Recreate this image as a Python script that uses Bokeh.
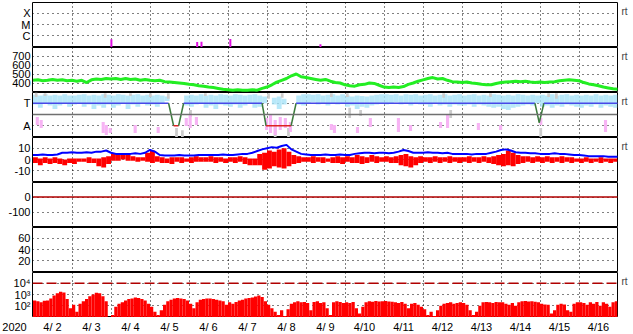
import numpy as np
from bokeh.plotting import figure
from bokeh.layouts import column
from bokeh.models import (Range1d, FixedTicker, CustomJSTickFormatter, LinearAxis,
                          LogAxis, Span)
from bokeh.core.properties import value
from bokeh.embed import file_html
from bokeh.resources import INLINE

FONT = "Liberation Sans"

# ---------------- time axis (days after 2020-04-02 00 UT) ----------------
year_label = "2020"
date_labels = ["4/ 2", "4/ 3", "4/ 4", "4/ 5", "4/ 6", "4/ 7", "4/ 8", "4/ 9",
               "4/10", "4/11", "4/12", "4/13", "4/14", "4/15", "4/16"]
midnights = list(range(1, 15))
noons = [d + 0.5 for d in range(15)]

# ---------------- panel 1 : X-ray flare class ----------------
xray_ticks = [1e-6, 1e-5, 1e-4]
xray_labels = ["C", "M", "X"]
flare_t = [2.01, 4.21, 4.32, 5.06, 7.37]
flare_peak = [5.0e-7, 2.8e-7, 3.0e-7, 5.2e-7, 1.8e-7]

# ---------------- panel 2 : solar wind speed, 3-hourly ----------------
speed_ticks = [400, 500, 600, 700]
speed_labels = ["400", "500", "600", "700"]
wind_speed = [430, 435, 425, 430, 440, 430, 435, 425, 430, 420,
              430, 405, 435, 445, 440, 450, 445, 450, 440, 450,
              440, 445, 430, 440, 430, 425, 430, 415, 410, 405,
              400, 395, 385, 380, 370, 365, 355, 350, 340, 330,
              325, 320, 325, 320, 320, 325, 320, 340, 355, 380,
              410, 430, 450, 480, 500, 470, 460, 450, 440, 430,
              440, 420, 405, 400, 380, 370, 365, 380, 385, 400,
              395, 375, 355, 350, 355, 350, 360, 385, 400, 420,
              435, 450, 460, 445, 450, 430, 415, 410, 405, 410,
              400, 395, 385, 380, 380, 395, 405, 410, 415, 420,
              415, 420, 410, 405, 410, 405, 410, 415, 425, 430,
              435, 430, 425, 405, 390, 380, 370, 355, 345, 335,
              330]

# ---------------- panel 3 : T / A ----------------
ta_ticks = [1, 3]
ta_labels = ["A", "T"]
src_t = [0, 3.477, 3.605, 3.734, 3.862, 5.874, 5.976, 6.618, 6.746, 12.87, 12.98, 13.10, 15]
src_level = [3, 3, 1, 1, 3, 3, 1, 1, 3, 3, 1.27, 3, 3]
mid_level = 2
lb_hi = [3.75, 3.7, 3.8, 3.7, 3.75, 3.7, 3.8, 3.7,
         3.7, 3.75, 3.8, 3.7, 3.75, 3.7, 3.8, 3.75,
         3.7, 3.8, 3.75, 3.7, 3.75, 3.8, 3.7, 3.75,
         3.7, 3.75, 3.7, 3.6, None, None, None, 3.7,
         3.75, 3.7, 3.8, 3.7, 3.75, 3.7, 3.8, 3.75,
         3.7, 3.8, 3.75, 3.7, 3.75, 3.8, 3.7, 3.6,
         None, 3.5, 3.6, 3.4, None, None, 3.7, 3.8,
         3.8, 3.75, 3.8, 3.7, 3.75, 3.8, 3.7, 3.8,
         3.7, 3.6, 3.7, 3.65, 3.6, 3.7, 3.75, 3.8,
         3.8, 3.75, 3.8, 3.7, 3.8, 3.75, 3.8, 3.7,
         3.75, 3.8, 3.7, 3.75, 3.8, 3.7, 3.75, 3.8,
         3.7, 3.75, 3.8, 3.7, 3.75, 3.7, 3.8, 3.75,
         3.7, 3.75, 3.7, 3.8, 3.75, 3.7, 3.75, 3.7,
         3.75, 3.7, 3.8, 3.7, 3.75, 3.8, 3.7, 3.75,
         3.7, 3.75, 3.7, 3.8, 3.7, 3.75, 3.7, 3.75]
lb_lo = [2.9, 2.6, 3.0, 2.8, 2.5, 2.8, 3.0, 2.7,
         2.9, 3.0, 2.7, 2.9, 2.5, 2.8, 2.6, 2.9,
         2.6, 2.8, 3.0, 2.5, 2.9, 2.7, 3.0, 2.8,
         2.9, 2.7, 3.0, 3.2, None, None, None, 2.8,
         2.7, 2.9, 3.0, 2.6, 2.8, 2.5, 2.9, 2.8,
         2.7, 2.9, 2.6, 2.8, 3.0, 2.6, 2.7, 3.0,
         None, 2.9, 2.5, 2.9, None, None, 2.9, 2.8,
         3.0, 3.1, 2.9, 3.0, 2.8, 3.0, 2.9, 3.0,
         2.7, 2.8, 2.5, 2.7, 2.6, 2.8, 2.9, 3.0,
         2.9, 3.0, 3.1, 2.9, 3.0, 2.8, 3.0, 2.9,
         2.9, 2.7, 3.0, 2.8, 2.9, 2.7, 2.9, 2.8,
         2.8, 2.9, 2.7, 2.9, 2.8, 2.7, 2.6, 2.7,
         2.5, 2.4, 2.6, 2.7, 2.8, 2.9, 2.8, 3.0,
         2.7, 2.8, 2.6, 2.8, 2.7, 2.9, 2.8, 2.7,
         2.6, 2.8, 2.7, 2.9, 2.6, 2.8, 2.7, 2.6]
pink_t = [0.11, 0.21, 1.80, 1.88, 1.98, 2.62, 3.21, 3.93, 4.03, 4.19, 5.99, 6.09, 6.21,
          6.34, 6.47, 6.60, 7.65, 7.73, 8.32, 8.65, 9.37, 9.68, 10.45, 10.63, 11.42,
          11.99, 13.02, 14.68]
pink_hi = [1.78, 1.51, 1.33, 1.07, 0.80, 1.07, 0.89, 1.69, 1.96, 1.78, 1.69, 1.96, 1.51,
           1.78, 1.69, 1.33, 1.16, 1.07, 0.89, 1.69, 1.69, 1.07, 1.33, 1.96, 1.24,
           1.07, 1.69, 1.51]
pink_lo = [1.07, 0.80, 0.36, 0.18, 0.36, 0.36, 0.36, 0.98, 0.80, 1.07, 0.62, 0.36, 0.18,
           0.62, 0.80, 0.44, 0.62, 0.36, 0.36, 0.89, 0.44, 0.53, 0.80, 0.80, 0.62,
           0.62, 1.07, 0.44]
gray_t = [0.08, 0.31, 1.85, 2.50, 3.01, 3.47, 3.68, 3.83, 4.04, 4.42, 6.04, 6.21, 6.39,
          6.55, 7.65, 8.06, 8.12, 8.40, 10.53, 10.71, 11.73, 13.22, 13.42, 13.02]
gray_hi = [4.0, 3.9, 3.9, 3.9, 3.9, 3.9, 0.8, 0.6, 2.4, 3.9, 3.9, 1.0, 3.9,
           0.8, 3.9, 3.9, 2.6, 2.4, 3.9, 2.4, 3.9, 3.9, 3.9, 0.8]
gray_lo = [3.56, 3.65, 3.5, 3.65, 3.56, 3.4, 0.0, 0.0, 1.78, 3.65, 3.4, 0.0, 3.5,
           0.0, 3.56, 3.56, 1.69, 1.87, 3.5, 1.69, 3.56, 3.56, 3.4, 0.0]

# ---------------- panel 4 : IMF Bt (blue, 3-hourly) and Bz (red, 3-h range) ----------------
b_ticks = [-10, 0, 10]
b_labels = ["-10", "0", "10"]
bt = [4, 4, 4.5, 4, 4, 4.5, 6, 6, 6.5, 6,
      6, 6.5, 6, 7, 7, 8, 6, 5, 5, 5,
      5, 5.5, 5, 6, 8.5, 7, 4, 3.5, 3.5, 3.5,
      4, 3.5, 3.5, 3.5, 4, 4, 4, 4, 4, 4.5,
      4, 4, 4.5, 5, 5, 6, 7.5, 9, 10, 11,
      10.5, 12, 13, 9, 7, 5, 4.5, 4, 4, 4,
      4.5, 4, 4, 4.5, 4, 4, 5, 5.5, 6, 6,
      5.5, 6, 6, 5.5, 6, 7, 8.5, 7.5, 6, 6,
      6, 6.5, 6, 6, 5.5, 6, 5, 5, 5, 5,
      4.5, 5, 5, 5, 6, 7, 8.5, 9, 8, 6.5,
      6, 6, 5.5, 5.5, 5, 5, 5, 5.5, 5, 5,
      4.5, 4, 4, 3.5, 3, 3, 3, 3, 2.5, 2.5,
      2.5]
bz_max = [2, 1, 2, 1, 2, 1, 0, 1, 1, 1, 1, 2, 1, 1, 2, 3,
          5, 4, 5, 4, 3, 2, 2, 6, 8, 3, 2, 1, 2, 2, 2, 1,
          2, 3, 2, 2, 3, 2, 2, 1, 2, 2, 3, 2, 1, 1, 5, 6,
          8, 7, 9, 10, 7, 4, 3, 2, 2, 3, 2, 2, 1, 2, 3, 2,
          3, 2, 4, 3, 2, 4, 3, 2, 3, 2, 3, 4, 5, 3, 2, 3,
          2, 2, 3, 2, 2, 3, 2, 2, 2, 3, 2, 2, 3, 2, 3, 4,
          5, 8, 6, 4, 3, 3, 2, 3, 2, 3, 2, 2, 3, 2, 2, 1,
          1, 2, 1, 1, 2, 1, 1, 1]
bz_min = [-3, -5, -3, -4, -3, -4, -5, -3, -4, -2, -2, -3, -3, -6, -7, -4,
          -1, -1, 0, -1, -1, -2, -1, -2, -3, -2, -3, -3, -4, -2, -3, -2,
          -3, -2, -2, -2, -2, -3, -2, -3, -2, -3, -2, -4, -5, -5, -5, -9,
          -8, -6, -7, -8, -6, -4, -3, -2, -2, -3, -2, -3, -2, -3, -3, -4,
          -2, -3, -3, -4, -3, -2, -3, -2, -2, -3, -3, -5, -6, -7, -5, -3,
          -2, -3, -2, -3, -2, -3, -2, -3, -2, -3, -2, -3, -2, -3, -4, -5,
          -6, -5, -6, -4, -3, -2, -3, -2, -3, -2, -3, -2, -3, -2, -3, -2,
          -3, -2, -3, -2, -3, -2, -3, -2]

# ---------------- panel 5 : index near zero ----------------
dst_ticks = [-100, 0]
dst_labels = ["-100", "0"]
dst_t = [0.0, 15.0]
dst_val = [0, 0]

# ---------------- panel 6 : empty ----------------
p6_ticks = [20, 40, 60]
p6_labels = ["20", "40", "60"]

# ---------------- panel 7 : electron flux, 2-hourly ----------------
flux_ticks = [1e2, 1e3, 1e4]
flux_labels = ["10\u00b2", "10\u00b3", "10\u2074"]
flux_alert = 1e4
flux = [300, 250, 200, 280, 300, 450, 800, 1300, 1800, 1500, 400, 60,
        120, 30, 150, 250, 400, 700, 1000, 1400, 1300, 700, 250, 10,
        15, 80, 150, 200, 300, 400, 450, 550, 500, 400, 300, 150,
        80, 30, 15, 40, 120, 250, 350, 450, 500, 450, 400, 300,
        150, 60, 200, 350, 400, 450, 450, 400, 350, 300, 250, 120,
        200, 150, 220, 300, 350, 450, 500, 550, 650, 800, 600, 250,
        120, 60, 30, 15, 40, 12, 50, 150, 200, 250, 200, 220,
        180, 40, 220, 250, 180, 200, 60, 15, 200, 250, 220, 180,
        200, 180, 220, 60, 20, 80, 200, 250, 230, 260, 240, 250,
        260, 240, 230, 200, 180, 220, 150, 60, 150, 180, 120, 80,
        50, 15, 30, 12, 40, 100, 150, 180, 200, 150, 180, 200,
        180, 120, 40, 15, 30, 100, 200, 220, 200, 180, 220, 200,
        200, 150, 120, 180, 100, 200, 250, 260, 240, 250, 230, 200,
        150, 130, 120, 20, 40, 120, 150, 130, 40, 30, 150, 200,
        200, 180, 120, 200, 150, 220, 100, 200, 150, 80, 200, 250]

# ======================================================================
W = 633
LEFT, RIGHT = 32, 16
FRAME_W, FRAME_H = W - LEFT - RIGHT, 45
DAYS = 15
px_day = FRAME_W / DAYS
hx = 0.5 / px_day                 # half a pixel, so grid lines sit on pixel centres
xr = Range1d(-hx, DAYS - hx)


def lin_range(a, b):
    h = 0.5 * (b - a) / FRAME_H
    return Range1d(a - h, b - h)


def log_range(a, b):
    h = 0.5 * (np.log10(b) - np.log10(a)) / FRAME_H
    return Range1d(a * 10 ** (-h), b * 10 ** (-h))


FMT_CODE = """
for (let i = 0; i < tvals.length; i++) {
  const d = Math.abs(tick - tvals[i]);
  if (d <= 1e-6 * Math.max(Math.abs(tvals[i]), 1e-12)) return tlabs[i];
}
return "";
"""


def panel(height, yr, tick_vals, tick_labs, log=False, top=0, rt=None):
    p = figure(width=W, height=height, x_range=xr, y_range=yr,
               y_axis_type="log" if log else "linear",
               x_axis_location=None,
               output_backend="svg", toolbar_location=None,
               min_border_left=LEFT, min_border_right=RIGHT,
               min_border_top=top, min_border_bottom=0)
    p.background_fill_color = "white"
    p.border_fill_color = "white"
    p.outline_line_color = "black"
    p.outline_line_width = 1
    p.outline_line_alpha = 1.0
    ya = p.yaxis[0]
    ya.ticker = FixedTicker(ticks=tick_vals)
    ya.formatter = CustomJSTickFormatter(args=dict(tvals=tick_vals, tlabs=tick_labs), code=FMT_CODE)
    ya.axis_line_color = None
    ya.major_tick_line_color = None
    ya.minor_tick_line_color = None
    ya.major_tick_out = 0
    ya.major_tick_in = 0
    ya.major_label_standoff = 2
    ya.major_label_text_font = FONT
    ya.major_label_text_font_size = "11px"
    ya.major_label_text_color = "black"
    p.xgrid.ticker = FixedTicker(ticks=midnights)
    p.xgrid.grid_line_color = "black"
    p.xgrid.grid_line_dash = "1 3"
    p.ygrid.grid_line_color = "black"
    p.ygrid.grid_line_dash = "1 4"
    if rt is not None:
        ax = (LogAxis if log else LinearAxis)()
        ax.ticker = FixedTicker(ticks=[rt])
        ax.formatter = CustomJSTickFormatter(code="return 'rt';")
        ax.axis_line_color = None
        ax.major_tick_line_color = None
        ax.minor_tick_line_color = None
        ax.major_tick_out = 0
        ax.major_tick_in = 0
        ax.major_label_standoff = 4
        ax.major_label_text_font = FONT
        ax.major_label_text_font_size = "10px"
        p.add_layout(ax, "right")
    return p


t3 = np.arange(len(wind_speed)) / 8.0
bins3 = (np.arange(len(bz_max)) + 0.5) / 8.0
bins2 = (np.arange(len(flux)) + 0.5) / 12.0

# panel 1
p1 = panel(47, log_range(1e-7, 1e-3), xray_ticks, xray_labels, log=True, top=2, rt=10 ** -3.8)
p1.segment(x0=flare_t, y0=[1e-8] * len(flare_t), x1=flare_t, y1=flare_peak,
           line_color="#e010e0", line_width=2)

# panel 2
p2 = panel(45, lin_range(300, 800), speed_ticks, speed_labels, rt=700)
p2.line(t3, wind_speed, line_color="#22ee22", line_width=3)

# panel 3
p3 = panel(45, lin_range(0, 4), ta_ticks, ta_labels, rt=3.2)
p3.vbar(x=bins3, top=np.array(lb_hi, dtype=float), bottom=np.array(lb_lo, dtype=float),
        width=1 / 8.0, fill_color="#a6e2f8", line_color=None, fill_alpha=0.8)
p3.vbar(x=gray_t, top=gray_hi, bottom=gray_lo, width=0.07,
        fill_color="#cccccc", line_color=None)
p3.vbar(x=pink_t, top=pink_hi, bottom=pink_lo, width=0.08,
        fill_color="#f7b4f4", line_color=None)
p3.add_layout(Span(location=mid_level, dimension="width", line_color="#707070", line_width=1.5))
seg_col = []
for a, b in zip(src_level[:-1], src_level[1:]):
    if a == 3 and b == 3:
        seg_col.append("#4848e8")
    elif a == 1 and b == 1:
        seg_col.append("#dd2222")
    else:
        seg_col.append("#3c7a3c")
p3.segment(x0=src_t[:-1], y0=src_level[:-1], x1=src_t[1:], y1=src_level[1:],
           line_color=seg_col, line_width=1.5)

# panel 4
p4 = panel(45, lin_range(-20, 20), b_ticks, b_labels, rt=12)
p4.vbar(x=bins3, top=bz_max, bottom=bz_min, width=1 / 8.0, fill_color="#ff0000", line_color=None)
p4.line(t3, bt, line_color="#0000ff", line_width=2)

# panel 5
p5 = panel(45, lin_range(-200, 100), dst_ticks, dst_labels)
p5.line(dst_t, dst_val, line_color="#b00000", line_width=1.5)

# panel 6
p6 = panel(45, lin_range(0, 80), p6_ticks, p6_labels)

# panel 7
p7 = panel(45, log_range(10, 1e5), flux_ticks, flux_labels, log=True, rt=10 ** 4.18)
p7.vbar(x=bins2, top=flux, bottom=1, width=1 / 12.0, fill_color="#ff0000", line_color=None)
p7.add_layout(Span(location=flux_alert, dimension="width", line_color="#b00000",
                   line_width=1.5, line_dash="10 4"))

# bottom strip: date labels and year, spanning the full page width on the same time scale
STRIP_H = 17
p8 = figure(width=W, height=STRIP_H,
            x_range=Range1d(xr.start - LEFT / px_day, xr.end + RIGHT / px_day),
            y_range=Range1d(0, STRIP_H), x_axis_location=None, y_axis_location=None,
            output_backend="svg", toolbar_location=None,
            min_border_left=0, min_border_right=0, min_border_top=0, min_border_bottom=0)
p8.frame_align = False
p8.outline_line_color = None
p8.background_fill_color = "white"
p8.border_fill_color = "white"
p8.grid.visible = False
p8.text(x=noons, y=[STRIP_H - 9] * len(noons), text=date_labels,
        text_align="center", text_baseline="middle", text_font=value(FONT),
        text_font_size="11px", text_color="black")
p8.text(x=[xr.start - 18 / px_day], y=[STRIP_H - 9], text=[year_label],
        text_align="center", text_baseline="middle", text_font=value(FONT),
        text_font_size="11px", text_color="black")

layout = column(p1, p2, p3, p4, p5, p6, p7, p8, spacing=0)
open("out.html", "w").write(file_html(layout, INLINE))
